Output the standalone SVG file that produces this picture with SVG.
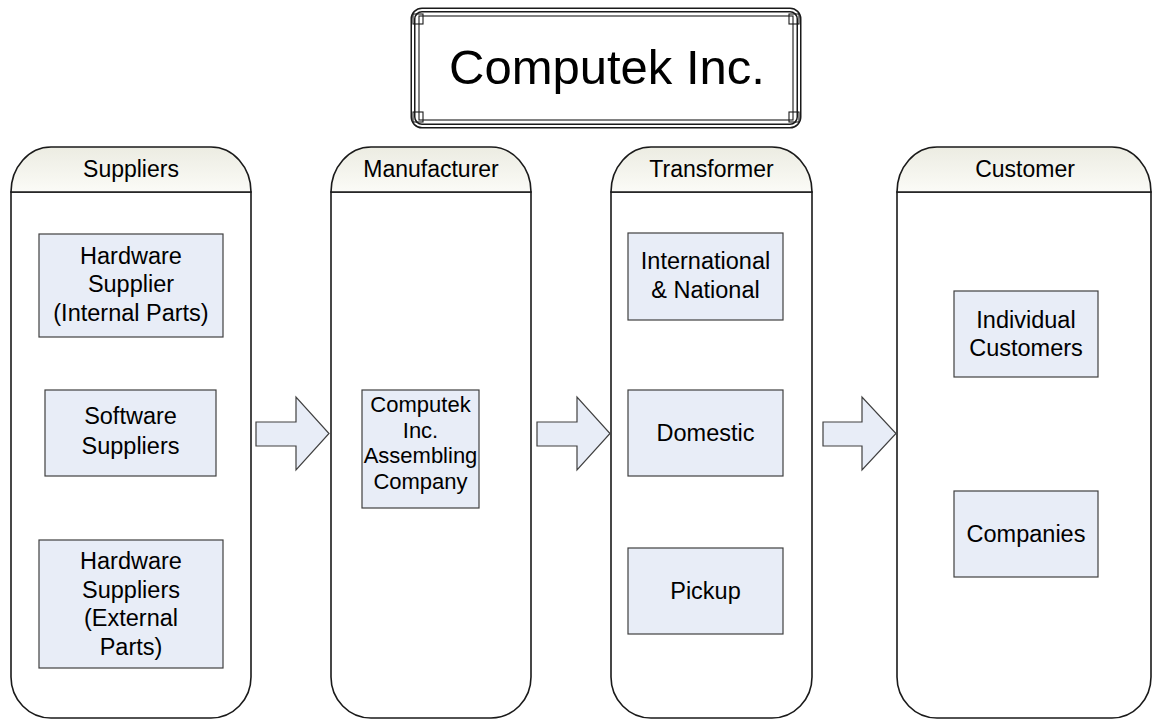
<svg xmlns="http://www.w3.org/2000/svg" width="1152" height="721" viewBox="0 0 1152 721">
<defs>
<linearGradient id="hdr" x1="0" y1="0" x2="0" y2="1">
<stop offset="0" stop-color="#ecece2"/>
<stop offset="1" stop-color="#fbfbf7"/>
</linearGradient>
<style>
.lane{fill:#fff;stroke:#1a1a1a;stroke-width:1.6}
.hdr{fill:url(#hdr);stroke:#1a1a1a;stroke-width:1.6}
.box{fill:#e8edf7;stroke:#404040;stroke-width:1.2}
.arr{fill:#e8edf7;stroke:#404040;stroke-width:1.2}
.fr{fill:none;stroke:#1a1a1a;stroke-width:1.1}
text{font-family:"Liberation Sans",Arial,sans-serif;fill:#000;text-anchor:middle}
.h{font-size:23px}
.t{font-size:23.5px}
.s{font-size:22px}
</style>
</defs>
<rect width="1152" height="721" fill="#fff"/>

<g id="title">
<rect x="413" y="10" width="386" height="116" rx="9" fill="#fff" stroke="#1a1a1a" stroke-width="5"/>
<rect x="413" y="10" width="386" height="116" rx="9" fill="none" stroke="#fff" stroke-width="2"/>
<rect class="fr" x="419" y="16" width="374" height="104"/>
<rect class="fr" x="413" y="14" width="10" height="10"/>
<rect class="fr" x="789" y="14" width="10" height="10"/>
<rect class="fr" x="413" y="112" width="10" height="10"/>
<rect class="fr" x="789" y="112" width="10" height="10"/>
<text x="607" y="84" style="font-size:49px">Computek Inc.</text>
</g>

<g id="lane-suppliers">
<path class="lane" d="M11,192 V677 A40,41 0 0 0 51,718 H211 A40,41 0 0 0 251,677 V192 Z"/>
<path class="hdr" d="M11,192 A40,45 0 0 1 51,147 H211 A40,45 0 0 1 251,192 Z"/>
<text class="h" x="131" y="177">Suppliers</text>
</g>
<g id="lane-manufacturer">
<path class="lane" d="M331,192 V677 A40,41 0 0 0 371,718 H491 A40,41 0 0 0 531,677 V192 Z"/>
<path class="hdr" d="M331,192 A40,45 0 0 1 371,147 H491 A40,45 0 0 1 531,192 Z"/>
<text class="h" x="431" y="177">Manufacturer</text>
</g>
<g id="lane-transformer">
<path class="lane" d="M611,192 V677 A40,41 0 0 0 651,718 H772 A40,41 0 0 0 812,677 V192 Z"/>
<path class="hdr" d="M611,192 A40,45 0 0 1 651,147 H772 A40,45 0 0 1 812,192 Z"/>
<text class="h" x="711.5" y="177">Transformer</text>
</g>
<g id="lane-customer">
<path class="lane" d="M897,192 V677 A40,41 0 0 0 937,718 H1112 A39,41 0 0 0 1151,677 V192 Z"/>
<path class="hdr" d="M897,192 A40,45 0 0 1 937,147 H1112 A39,45 0 0 1 1151,192 Z"/>
<text class="h" x="1025" y="177">Customer</text>
</g>

<g id="connectors">
<path class="arr" d="M256,422 H296 V397 L329,433.5 L296,470 V446 H256 Z"/>
<path class="arr" d="M537,422 H577 V397 L610,433.5 L577,470 V446 H537 Z"/>
<path class="arr" d="M823,422 H862 V397 L896,433.5 L862,470 V446 H823 Z"/>
</g>

<g id="hw-internal">
<rect class="box" x="39" y="234" width="184" height="103"/>
<text class="t" x="131" y="264">Hardware</text>
<text class="t" x="131" y="292">Supplier</text>
<text class="t" x="131" y="321">(Internal Parts)</text>
</g>
<g id="software">
<rect class="box" x="45" y="390" width="171" height="86"/>
<text class="t" x="130.5" y="424">Software</text>
<text class="t" x="130.5" y="454">Suppliers</text>
</g>
<g id="hw-external">
<rect class="box" x="39" y="540" width="184" height="128"/>
<text class="t" x="131" y="569">Hardware</text>
<text class="t" x="131" y="598">Suppliers</text>
<text class="t" x="131" y="626">(External</text>
<text class="t" x="131" y="655">Parts)</text>
</g>
<g id="assembling">
<rect class="box" x="362" y="390" width="117" height="118"/>
<text class="s" x="420.5" y="412">Computek</text>
<text class="s" x="420.5" y="437.5">Inc.</text>
<text class="s" x="420.5" y="463">Assembling</text>
<text class="s" x="420.5" y="488.5">Company</text>
</g>
<g id="international">
<rect class="box" x="628" y="233" width="155" height="87"/>
<text class="t" x="705.5" y="269">International</text>
<text class="t" x="705.5" y="298">&amp; National</text>
</g>
<g id="domestic">
<rect class="box" x="628" y="390" width="155" height="86"/>
<text class="t" x="705.5" y="441">Domestic</text>
</g>
<g id="pickup">
<rect class="box" x="628" y="548" width="155" height="86"/>
<text class="t" x="705.5" y="599">Pickup</text>
</g>
<g id="individual">
<rect class="box" x="954" y="291" width="144" height="86"/>
<text class="t" x="1026" y="328">Individual</text>
<text class="t" x="1026" y="356">Customers</text>
</g>
<g id="companies">
<rect class="box" x="954" y="491" width="144" height="86"/>
<text class="t" x="1026" y="542">Companies</text>
</g>
</svg>
